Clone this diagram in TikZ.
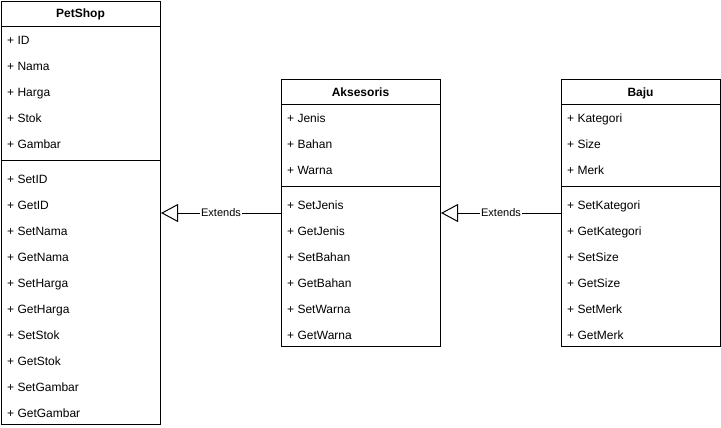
\documentclass[tikz,border=0pt]{standalone}
\usepackage{fontspec}
\setmainfont{Liberation Sans}
\usetikzlibrary{arrows.meta}
\tikzset{
  classbox/.style={draw=black, line width=1pt, anchor=north west, inner sep=0pt, minimum width=159pt},
  title/.style={font=\fontsize{12}{14}\selectfont\bfseries, anchor=center, inner sep=0pt, text height=9pt, text depth=3pt, yshift=-1pt},
  member/.style={font=\fontsize{12}{14}\selectfont, anchor=west, inner sep=0pt, text height=9pt, text depth=3pt, yshift=-1pt},
  sep/.style={line width=1pt},
  extends/.style={line width=1pt, -{Triangle[open, length=17pt, width=18pt, line width=1pt]}},
  elabel/.style={font=\fontsize{11}{13}\selectfont, fill=white, inner sep=1pt, text height=8pt, text depth=2.5pt, yshift=-0.5pt}
}
\begin{document}
\begin{tikzpicture}[x=1pt, y=-1pt]
\useasboundingbox (0,0) rectangle (721,428);
% PetShop
\node[classbox, minimum height=423pt] (pet) at (1,1) {};
\node[title] (petT) at (80.5,14) {PetShop};
\draw[sep] (1,27) -- (160,27);
\draw[sep] (1,160) -- (160,160);
\foreach \t [count=\i] in {ID,Nama,Harga,Stok,Gambar}
  \node[member] (petA\i) at (7,{41+26*(\i-1)}) {+ \t};
\foreach \t [count=\i] in {SetID,GetID,SetNama,GetNama,SetHarga,GetHarga,SetStok,GetStok,SetGambar,GetGambar}
  \node[member] (petM\i) at (7,{179+26*(\i-1)}) {+ \t};
% Aksesoris
\node[classbox, minimum height=267pt] (aks) at (281,79) {};
\node[title] (aksT) at (360.5,92) {Aksesoris};
\draw[sep] (281,105) -- (440,105);
\draw[sep] (281,186) -- (440,186);
\foreach \t [count=\i] in {Jenis,Bahan,Warna}
  \node[member] (aksA\i) at (287,{119+26*(\i-1)}) {+ \t};
\foreach \t [count=\i] in {SetJenis,GetJenis,SetBahan,GetBahan,SetWarna,GetWarna}
  \node[member] (aksM\i) at (287,{205+26*(\i-1)}) {+ \t};
% Baju
\node[classbox, minimum height=267pt] (baju) at (561,79) {};
\node[title] (bajuT) at (640.5,92) {Baju};
\draw[sep] (561,105) -- (720,105);
\draw[sep] (561,186) -- (720,186);
\foreach \t [count=\i] in {Kategori,Size,Merk}
  \node[member] (bajuA\i) at (567,{119+26*(\i-1)}) {+ \t};
\foreach \t [count=\i] in {SetKategori,GetKategori,SetSize,GetSize,SetMerk,GetMerk}
  \node[member] (bajuM\i) at (567,{205+26*(\i-1)}) {+ \t};
% Connectors
\coordinate (c1) at (0,213);
\draw[extends] (aks.west |- c1) -- node[elabel, pos=0.5] {Extends} (pet.east |- c1);
\draw[extends] (baju.west |- c1) -- node[elabel, pos=0.5] {Extends} (aks.east |- c1);
\end{tikzpicture}
\end{document}
